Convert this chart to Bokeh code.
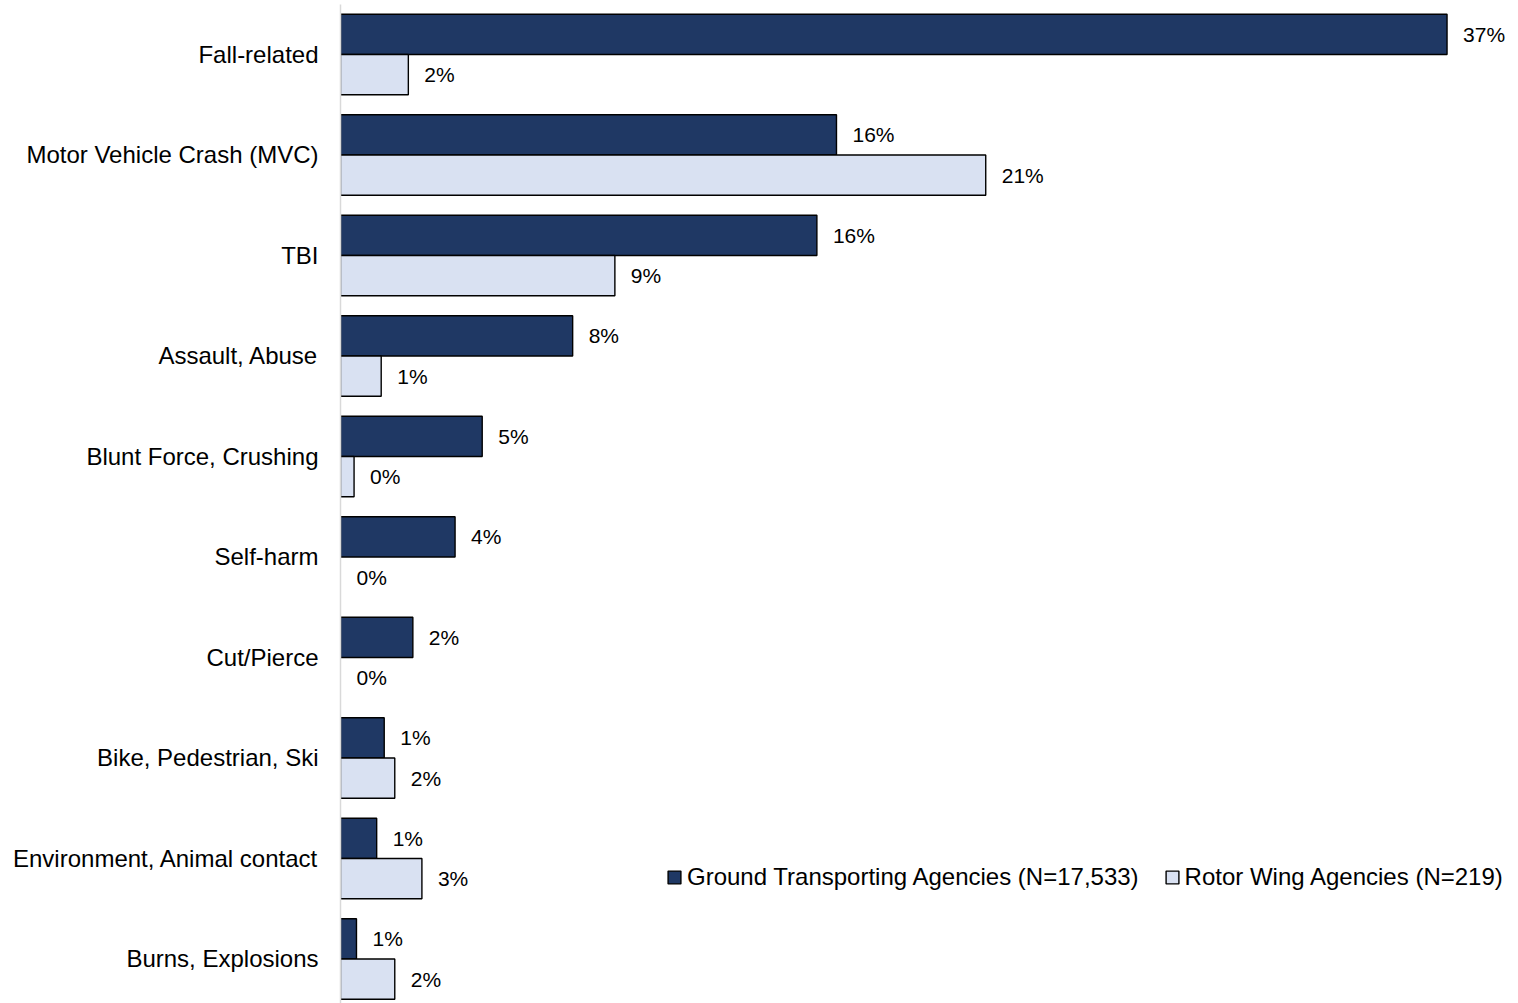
import math
from bokeh.plotting import figure
from bokeh.models import ColumnDataSource, Range1d, FixedTicker, Legend, LegendItem
from bokeh.core.properties import value
from bokeh.embed import file_html
from bokeh.resources import INLINE

categories = ["Fall-related", "Motor Vehicle Crash (MVC)", "TBI", "Assault, Abuse",
              "Blunt Force, Crushing", "Self-harm", "Cut/Pierce", "Bike, Pedestrian, Ski",
              "Environment, Animal contact", "Burns, Explosions"]
ground = [36.7, 16.45, 15.8, 7.7, 4.7, 3.8, 2.4, 1.45, 1.2, 0.53]
rotor = [2.25, 21.4, 9.1, 1.35, 0.45, 0.0, 0.0, 1.8, 2.7, 1.8]
series_names = ["Ground Transporting Agencies (N=17,533)", "Rotor Wing Agencies (N=219)"]

FONT = "Liberation Sans"
DARK = "#1F3864"
LIGHT = "#D9E1F2"

n = len(categories)
pos = [n - 1 - i for i in range(n)]

def lab(v):
    return f"{math.floor(v + 0.5)}%"

src_g = ColumnDataSource(dict(y=[p + 0.2 for p in pos], x=ground,
                              lab=[lab(v) for v in ground],
                              la=[1.0 if v > 0 else 0.0 for v in ground]))
src_r = ColumnDataSource(dict(y=[p - 0.2 for p in pos], x=rotor,
                              lab=[lab(v) for v in rotor],
                              la=[1.0 if v > 0 else 0.0 for v in rotor]))

p = figure(width=1518, height=1003, output_backend="svg", toolbar_location=None,
           x_range=Range1d(0, 39.07), y_range=Range1d(-0.443, 9.4975),
           min_border_left=340, min_border_right=0, min_border_top=4, min_border_bottom=0)
p.outline_line_color = None
p.grid.visible = False
p.xaxis.visible = False
p.background_fill_color = "white"
p.border_fill_color = "white"

yax = p.yaxis[0]
yax.ticker = FixedTicker(ticks=pos)
yax.major_label_overrides = {pos[i]: categories[i] for i in range(n)}
yax.major_tick_line_color = None
yax.minor_tick_line_color = None
yax.axis_line_color = "#D9D9D9"
yax.axis_line_width = 1.5
yax.major_label_text_font = FONT
yax.major_label_text_font_size = "24px"
yax.major_label_text_color = "#000000"
yax.major_label_standoff = 16

rg = p.hbar(y="y", right="x", left=0, height=0.4, source=src_g, fill_color=DARK,
            line_color="#000000", line_width=1.4, line_alpha="la")
rr = p.hbar(y="y", right="x", left=0, height=0.4, source=src_r, fill_color=LIGHT,
            line_color="#000000", line_width=1.4, line_alpha="la")

for s in (src_g, src_r):
    p.text(x="x", y="y", text="lab", source=s, x_offset=16, text_align="left",
           text_baseline="middle", text_font=value(FONT), text_font_size="21px",
           text_color="#000000")

legend = Legend(items=[LegendItem(label=series_names[0], renderers=[rg]),
                       LegendItem(label=series_names[1], renderers=[rr])],
                orientation="horizontal", location=(326, 112),
                label_text_font=FONT, label_text_font_size="24px", label_text_color="#000000",
                glyph_width=16, glyph_height=16, label_standoff=5, spacing=25,
                padding=0, margin=0, border_line_color=None, background_fill_alpha=0)
p.add_layout(legend, "center")

open("out.html", "w").write(file_html(p, INLINE))
